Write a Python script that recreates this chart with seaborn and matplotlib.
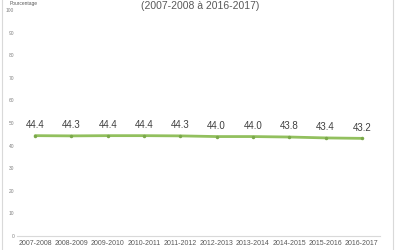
import matplotlib
matplotlib.use("Agg")
import matplotlib.pyplot as plt
import seaborn as sns
import pandas as pd
from matplotlib.patches import Rectangle

years = ["2007-2008", "2008-2009", "2009-2010", "2010-2011", "2011-2012",
         "2012-2013", "2013-2014", "2014-2015", "2015-2016", "2016-2017"]
values = [44.4, 44.3, 44.4, 44.4, 44.3, 44.0, 44.0, 43.8, 43.4, 43.2]
yticks = [0, 10, 20, 30, 40, 50, 60, 70, 80, 90, 100]

df = pd.DataFrame({"year": years, "value": values})

sns.set_theme(style="white")
plt.rcParams['font.family'] = ['Liberation Sans', 'DejaVu Sans']

fig = plt.figure(figsize=(4, 2.5), dpi=100)
ax = fig.add_axes([0.0425, 0.056, 0.9075, 0.904])

sns.lineplot(data=df, x="year", y="value", ax=ax, color="#92c05e",
             linewidth=2, marker="o", markersize=2.5, markeredgewidth=0,
             markerfacecolor="#7aa84a", sort=False)

for i, v in enumerate(values):
    ax.text(i, v + 2.5, f"{v:.1f}", ha="center", va="bottom",
            fontsize=7, color="#404040")

ax.set_xlim(-0.5, len(years) - 0.5)
ax.set_ylim(0, 100)
ax.set_yticks(yticks)
ax.set_yticklabels([str(t) for t in yticks])
ax.tick_params(axis="y", labelsize=3.5, colors="#808080", length=0, pad=2)
ax.tick_params(axis="x", labelsize=5, colors="#595959", length=0, pad=3)
ax.set_xlabel("")
ax.set_ylabel("")
for s in ["top", "right", "left"]:
    ax.spines[s].set_visible(False)
ax.spines["bottom"].set_color("#d9d9d9")
ax.spines["bottom"].set_linewidth(0.8)

fig.text(0.5, 0.996, "(2007-2008 à 2016-2017)", ha="center", va="top",
         fontsize=7.5, color="#595959")
fig.text(0.025, 0.996, "Pourcentage", ha="left", va="top",
         fontsize=3.5, color="#595959")

fig.patches.append(Rectangle((0.005, -0.01), 0.978, 1.02, transform=fig.transFigure,
                             fill=False, edgecolor="#d9d9d9", linewidth=0.8))

fig.savefig("out.png", dpi=100)
